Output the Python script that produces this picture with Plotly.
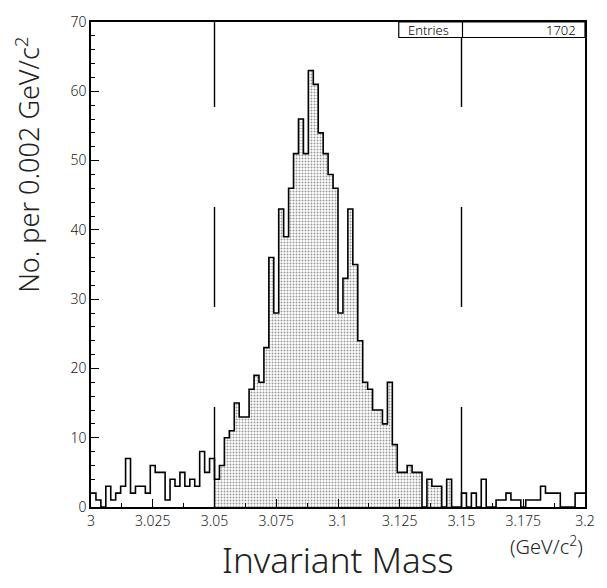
import plotly.graph_objects as go

# ---- data ----
bin_lo = 3.0
bin_width = 0.002
counts = [2, 1, 0, 3, 1, 2, 3, 7, 2, 3, 3, 2, 6, 5, 5, 1, 4, 3, 5, 3, 4, 3, 8, 5, 7, 4, 6,
          10, 11, 15, 13, 13, 17, 19, 18, 23, 36, 28, 43, 39, 46, 51, 56, 51, 63, 61, 54, 51,
          48, 46, 28, 33, 43, 35, 24, 18, 17, 14, 14, 12, 18, 9,
          5, 5, 6, 5, 5, 0, 4, 3, 3, 0, 4, 0, 0,
          2, 0, 2, 0, 4, 0, 0, 1, 1, 2, 1, 1, 0, 1, 1, 1, 3, 2, 2, 2, 0, 0, 0, 2, 2]
signal_window = [3.05, 3.15]
x_tickvals = [3.0, 3.025, 3.05, 3.075, 3.1, 3.125, 3.15, 3.175, 3.2]
x_ticktext = ["3", "3.025", "3.05", "3.075", "3.1", "3.125", "3.15", "3.175", "3.2"]
entries = 1702

edges = [bin_lo + i * bin_width for i in range(len(counts) + 1)]
centers = [bin_lo + (i + 0.5) * bin_width for i in range(len(counts))]
sel = [i for i, c in enumerate(centers) if signal_window[0] < c < signal_window[1]]

FONT = "Noto Sans, DejaVu Sans, sans-serif"
TXT = "#222222"

fig = go.Figure()
fig.add_trace(go.Bar(
    x=[centers[i] for i in sel], y=[counts[i] for i in sel], width=bin_width,
    marker=dict(color="white", line=dict(width=0),
                pattern=dict(shape=".", fgcolor="#333333", bgcolor="white",
                             size=3, solidity=0.35)),
    hoverinfo="skip", showlegend=False))
fig.add_trace(go.Scatter(
    x=edges, y=counts + [counts[-1]], mode="lines", line_shape="hv",
    line=dict(color="black", width=1.6), showlegend=False, hoverinfo="skip"))

for xv in signal_window:
    fig.add_shape(type="line", xref="x", yref="y", x0=xv, x1=xv, y0=0, y1=70,
                  line=dict(color="black", width=1.4, dash="100px,100px"))

# Entries box
fig.add_shape(type="rect", xref="paper", yref="paper", x0=0.623, x1=1.0, y0=0.968, y1=1.0,
              line=dict(color="black", width=1.2), fillcolor="white", layer="above")
fig.add_shape(type="line", xref="paper", yref="paper", x0=0.752, x1=0.752, y0=0.968, y1=1.0,
              line=dict(color="black", width=1.2))
fig.add_annotation(xref="paper", yref="paper", x=0.637, y=0.984, text="Entries",
                   showarrow=False, xanchor="left", yanchor="middle",
                   font=dict(family=FONT, size=13, color="black", weight=300))
fig.add_annotation(xref="paper", yref="paper", x=0.985, y=0.984, text=str(entries),
                   showarrow=False, xanchor="right", yanchor="middle",
                   font=dict(family=FONT, size=13, color="black", weight=300))

# titles
fig.add_annotation(xref="paper", yref="paper", x=-0.13, y=0.705,
                   text="No. per 0.002 GeV/c<sup>2</sup>", textangle=-90, showarrow=False,
                   xanchor="center", yanchor="middle",
                   font=dict(family=FONT, size=27, color=TXT, weight=300))
fig.add_annotation(xref="paper", yref="paper", x=0.5, y=-0.161, text="Invariant Mass",
                   showarrow=False, xanchor="center", yanchor="bottom",
                   font=dict(family=FONT, size=35, color=TXT, weight=300))
fig.add_annotation(xref="paper", yref="paper", x=1.0, y=-0.08, text="(GeV/c<sup>2</sup>)",
                   showarrow=False, xanchor="right", yanchor="middle",
                   font=dict(family=FONT, size=20, color=TXT, weight=300))

fig.update_layout(
    width=607, height=588, margin=dict(l=91, r=12, t=17, b=81),
    paper_bgcolor="white", plot_bgcolor="white", bargap=0,
    font=dict(family=FONT, size=14, color=TXT, weight=300),
)
fig.update_xaxes(range=[3.0, 3.2], tickvals=x_tickvals, ticktext=x_ticktext,
                 ticks="inside", ticklen=8, tickwidth=1.2, tickcolor="black",
                 showline=True, linecolor="black", linewidth=1.5, mirror=True,
                 showgrid=False, zeroline=False,
                 minor=dict(dtick=0.0125, ticks="inside", ticklen=4, tickcolor="black"),
                 tickfont=dict(family=FONT, size=14, color=TXT, weight=300))
fig.update_yaxes(range=[0, 70], dtick=10, ticks="inside", ticklen=8, tickwidth=1.2,
                 tickcolor="black", showline=True, linecolor="black", linewidth=1.5,
                 mirror=True, showgrid=False, zeroline=False,
                 minor=dict(dtick=2, ticks="inside", ticklen=4, tickcolor="black"),
                 tickfont=dict(family=FONT, size=14, color=TXT, weight=300))

fig.write_html("out.html")
